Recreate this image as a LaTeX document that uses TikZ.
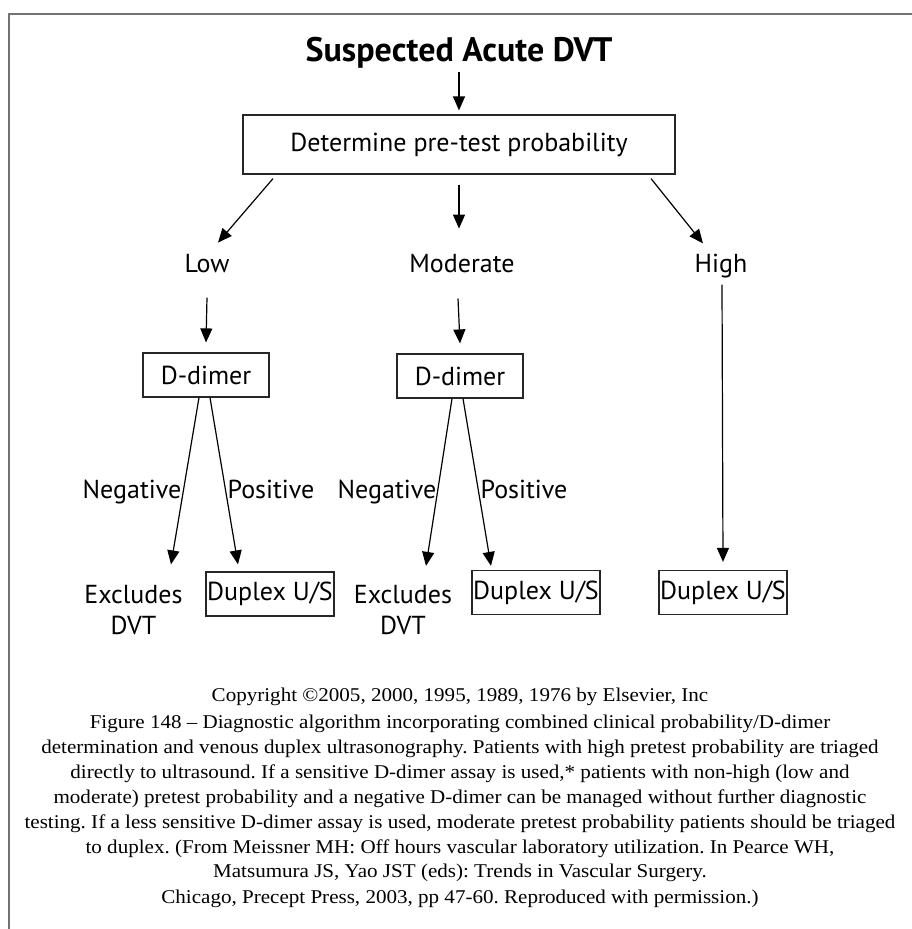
\documentclass[tikz,border=0pt]{standalone}
\usepackage{fontspec}
\setmainfont{Liberation Serif}[FakeStretch=1.08]
\newfontfamily\diagfont{PT Sans}
\usetikzlibrary{arrows.meta,calc}
\tikzset{
  arr/.style={line width=1.2pt,-{Triangle[length=14pt,width=12pt]}},
  boxnode/.style={draw=black!85,line width=1.2pt,inner sep=0pt,font=\diagfont\fontsize{26}{31}\selectfont},
  lbl/.style={inner sep=0pt,anchor=base,font=\diagfont\fontsize{26}{31}\selectfont},
  captxt/.style={inner sep=0pt,anchor=base,font=\frenchspacing\fontsize{19.5}{25}\selectfont},
}
\begin{document}
\begin{tikzpicture}[x=1pt,y=-1pt]
\useasboundingbox (0,0) rectangle (912,929);
% frame
\draw[line width=1.5pt,black!55] (912,14) -- (9,14) -- (9,929);
% title
\node[inner sep=0pt,anchor=base,font=\diagfont\bfseries\fontsize{34}{40}\selectfont] (title) at (459,61) {Suspected Acute DVT};
\node[boxnode,minimum width=432pt,minimum height=59pt] (main) at (459,144.5) {Determine pre-test probability};
\draw[arr] ([yshift=-4pt]title.south) -- ([yshift=4pt]main.north);
% level labels
\node[lbl] (low) at (207,272) {Low};
\node[lbl] (mod) at (462,272) {Moderate};
\node[lbl] (high) at (721,272) {High};
\draw[arr] ([xshift=-186pt,yshift=-4pt]main.south) -- ([xshift=11pt,yshift=11pt]low.north);
\draw[arr] ([yshift=-10pt]main.south) -- ([xshift=-3pt,yshift=25pt]mod.north);
\draw[arr] ([xshift=192pt,yshift=-4pt]main.south) -- ([xshift=-18pt,yshift=10pt]high.north);
% D-dimer boxes
\node[boxnode,minimum width=126pt,minimum height=44pt] (dd1) at (206,375) {D-dimer};
\node[boxnode,minimum width=126pt,minimum height=44pt] (dd2) at (460,376) {D-dimer};
\draw[arr] ([yshift=-25pt]low.south) -- ([yshift=10pt]dd1.north);
\draw[arr] ([xshift=-4pt,yshift=-26pt]mod.south) -- ([yshift=10pt]dd2.north);
% bottom boxes
\node[boxnode,minimum width=128pt,minimum height=44pt] (dup1) at (270,594) {Duplex U/S};
\node[boxnode,minimum width=128pt,minimum height=44pt] (dup2) at (536,592.5) {Duplex U/S};
\node[boxnode,minimum width=128pt,minimum height=44pt] (dup3) at (723,592.5) {Duplex U/S};
\node[lbl,align=center,anchor=base] (ex1) at (133.5,634) {Excludes\\[-0.5pt]DVT};
\node[lbl,align=center,anchor=base] (ex2) at (403,634) {Excludes\\[-0.5pt]DVT};
% D-dimer branches
\draw[arr] ([xshift=-7pt]dd1.south) -- ([xshift=-99pt,yshift=7pt]dup1.north);
\draw[arr] ([xshift=4pt]dd1.south) -- ([xshift=-32pt,yshift=7pt]dup1.north);
\draw[arr] ([xshift=-8pt]dd2.south) -- ([xshift=-110pt,yshift=4pt]dup2.north);
\draw[arr] ([xshift=3pt]dd2.south) -- ([xshift=-45pt,yshift=4pt]dup2.north);
\draw[arr] ([xshift=1pt,yshift=-7pt]high.south) -- ([yshift=8pt]dup3.north);
% branch labels
\node[lbl] (neg1) at (132,498) {Negative};
\node[lbl] (pos1) at (271,498) {Positive};
\node[lbl] (neg2) at (387,498) {Negative};
\node[lbl] (pos2) at (524,498) {Positive};
% caption
\node[captxt] (copy) at (460,701) {Copyright \textcopyright2005, 2000, 1995, 1989, 1976 by Elsevier, Inc};
\node[captxt] (c1) at (460,728) {Figure 148 – Diagnostic algorithm incorporating combined clinical probability/D-dimer};
\node[captxt] (c2) at (460,753) {determination and venous duplex ultrasonography. Patients with high pretest probability are triaged};
\node[captxt] (c3) at (460,778) {directly to ultrasound. If a sensitive D-dimer assay is used,* patients with non-high (low and};
\node[captxt] (c4) at (460,803) {moderate) pretest probability and a negative D-dimer can be managed without further diagnostic};
\node[captxt] (c5) at (460,828) {testing. If a less sensitive D-dimer assay is used, moderate pretest probability patients should be triaged};
\node[captxt] (c6) at (460,853) {to duplex. (From Meissner MH: Off hours vascular laboratory utilization. In Pearce WH,};
\node[captxt] (c7) at (460,877) {Matsumura JS, Yao JST (eds): Trends in Vascular Surgery.};
\node[captxt] (c8) at (460,903) {Chicago, Precept Press, 2003, pp 47-60. Reproduced with permission.)};
\end{tikzpicture}
\end{document}
